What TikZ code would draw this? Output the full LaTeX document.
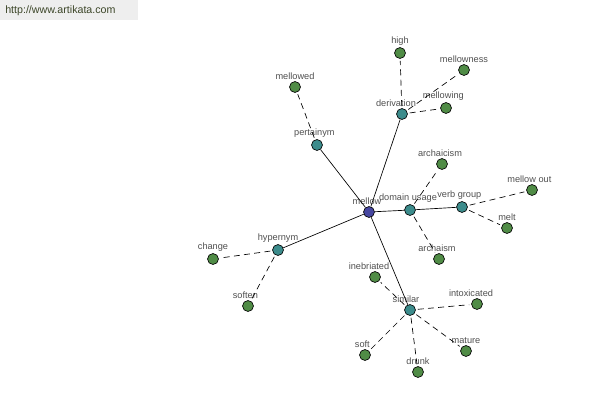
\documentclass[tikz,border=0pt]{standalone}
\usepackage{fontspec}
\setmainfont{Liberation Sans}
\definecolor{cmain}{RGB}{70,70,160}
\definecolor{cteal}{RGB}{60,140,140}
\definecolor{cgreen}{RGB}{80,140,70}
\definecolor{ctext}{RGB}{80,80,80}
\definecolor{cwm}{RGB}{60,70,40}
\definecolor{cwmbg}{RGB}{238,238,238}
\begin{document}
\begin{tikzpicture}[x=0.75pt,y=-0.75pt,
  base/.style={circle,draw=black,line width=0.5pt,minimum size=8.2pt,inner sep=0pt},
  mainnode/.style={base,fill=cmain},
  relnode/.style={base,fill=cteal},
  wordnode/.style={base,fill=cgreen},
  lab/.style={font=\fontsize{6.9}{8}\selectfont,text=ctext,inner sep=0pt,label distance=1.2pt},
  solidedge/.style={draw=black,line width=0.5pt},
  dashedge/.style={draw=black,line width=0.5pt,dash pattern=on 4.5pt off 3.2pt,shorten <=1.5pt,shorten >=1.5pt}]
\useasboundingbox (0,0) rectangle (600,400);
\fill[white] (0,0) rectangle (600,400);
\node[fill=cwmbg,minimum width=103.5pt,minimum height=15pt,anchor=north west,inner sep=0pt] (wmbox) at (0,0) {};
\node[anchor=west,font=\fontsize{8}{9}\selectfont,text=cwm,inner sep=0pt] (wm) at (5,11) {http://www.artikata.com};

% nodes
\node[mainnode,label={[lab,xshift=-1.5pt]above:mellow}] (mellow) at (369,212) {};
\node[relnode,label={[lab,xshift=-4.5pt]above:derivation}] (derivation) at (402,114) {};
\node[wordnode,label={[lab]above:high}] (high) at (400,53) {};
\node[wordnode,label={[lab]above:mellowness}] (mellowness) at (464,70) {};
\node[wordnode,label={[lab,xshift=-2pt]above:mellowing}] (mellowing) at (446,108) {};
\node[relnode,label={[lab,xshift=-2pt]above:pertainym}] (pertainym) at (317,145) {};
\node[wordnode,label={[lab]above:mellowed}] (mellowed) at (295,87) {};
\node[relnode,label={[lab,xshift=-1.5pt]above:domain usage}] (domain) at (410,210) {};
\node[wordnode,label={[lab,xshift=-1.5pt]above:archaicism}] (archaicism) at (442,164) {};
\node[wordnode,label={[lab,xshift=-1.5pt]above:archaism}] (archaism) at (439,259) {};
\node[relnode,label={[lab,xshift=-2pt]above:verb group}] (verbgroup) at (462,207) {};
\node[wordnode,label={[lab,xshift=-2pt]above:mellow out}] (mellowout) at (532,190) {};
\node[wordnode,label={[lab]above:melt}] (melt) at (507,228) {};
\node[relnode,label={[lab]above:hypernym}] (hypernym) at (278,250) {};
\node[wordnode,label={[lab]above:change}] (change) at (213,259) {};
\node[wordnode,label={[lab,xshift=-2pt]above:soften}] (soften) at (248,306) {};
\node[relnode,label={[lab,xshift=-3pt]above:similar}] (similar) at (410,310) {};
\node[wordnode,label={[lab,xshift=-4.5pt]above:inebriated}] (inebriated) at (375,277) {};
\node[wordnode,label={[lab,xshift=-4.5pt]above:intoxicated}] (intoxicated) at (477,304) {};
\node[wordnode,label={[lab,xshift=-2pt]above:soft}] (soft) at (365,355) {};
\node[wordnode,label={[lab]above:drunk}] (drunk) at (418,372) {};
\node[wordnode,label={[lab]above:mature}] (mature) at (466,351) {};

% edges
\path[solidedge] (mellow) -- (derivation);
\path[solidedge] (mellow) -- (pertainym);
\path[solidedge] (mellow) -- (domain);
\path[solidedge] (mellow) -- (hypernym);
\path[solidedge] (mellow) -- (similar);
\path[solidedge] (domain) -- (verbgroup);
\path[dashedge] (derivation) -- (high);
\path[dashedge] (derivation) -- (mellowness);
\path[dashedge] (derivation) -- (mellowing);
\path[dashedge] (pertainym) -- (mellowed);
\path[dashedge] (domain) -- (archaicism);
\path[dashedge] (domain) -- (archaism);
\path[dashedge] (verbgroup) -- (mellowout);
\path[dashedge] (verbgroup) -- (melt);
\path[dashedge] (hypernym) -- (change);
\path[dashedge] (hypernym) -- (soften);
\path[dashedge] (similar) -- (inebriated);
\path[dashedge] (similar) -- (intoxicated);
\path[dashedge] (similar) -- (soft);
\path[dashedge] (similar) -- (drunk);
\path[dashedge] (similar) -- (mature);
\end{tikzpicture}
\end{document}
